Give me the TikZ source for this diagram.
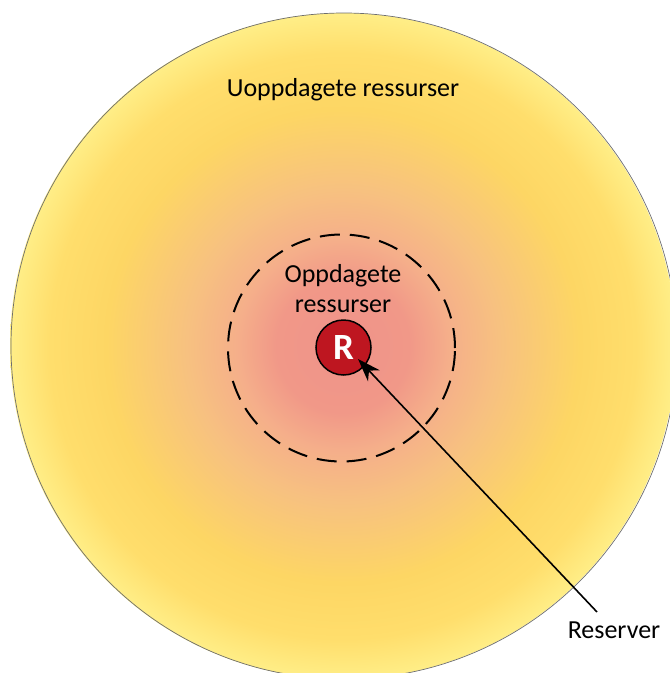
\documentclass[tikz,border=0pt]{standalone}
\usepackage{fontspec}
\setmainfont{Carlito}
\usetikzlibrary{arrows.meta}
\definecolor{cA}{RGB}{239,147,138}
\definecolor{cB}{RGB}{241,152,136}
\definecolor{cC}{RGB}{245,175,138}
\definecolor{cD}{RGB}{247,193,128}
\definecolor{cF}{RGB}{253,214,100}
\definecolor{cG}{RGB}{255,222,108}
\definecolor{cE}{RGB}{255,238,135}
\definecolor{rred}{RGB}{190,22,32}
\definecolor{rimgray}{RGB}{110,110,110}
\pgfdeclareradialshading{glow}{\pgfpointorigin}{color(0bp)=(cA);color(5bp)=(cB);color(8bp)=(cC);color(11.75bp)=(cD);color(17.75bp)=(cF);color(22bp)=(cG);color(25bp)=(cE);color(50bp)=(cE)}
\tikzset{
  lbl/.style={font=\fontsize{26}{30}\selectfont, align=center, inner sep=0pt, text=black},
  dashring/.style={draw=black, line width=2pt, dash pattern=on 20pt off 10pt},
  rnode/.style={circle, draw=black, line width=1.5pt, fill=rred, minimum size=55pt, inner sep=0pt, text=white, font=\fontsize{37}{40}\bfseries\selectfont},
  pointer/.style={draw=black, line width=1.6pt, -{Stealth[length=23pt, width=16pt, inset=7pt]}}
}
\begin{document}
\begin{tikzpicture}[x=1pt, y=-1pt]
\useasboundingbox (0,0) rectangle (670,673);
\clip (0,0) rectangle (670,673);
\path[shading=glow] (343,346) circle (333pt);
\draw[rimgray, line width=0.7pt] (344,346) circle (333pt);
\node[lbl] (outer) at (343,90) {Uoppdagete ressurser};
\draw[dashring] (341.5,348) circle (113.5pt);
\node[lbl] (inner) at (343,289) {Oppdagete\\ressurser};
\node[rnode] (R) at (343.5,347.5) {R};
\node[lbl] (res) at (614,630) {Reserver};
\coordinate (tail) at (597,612);
\coordinate (tip) at (358,359);
\draw[pointer] (tail) -- (tip);
\end{tikzpicture}
\end{document}
